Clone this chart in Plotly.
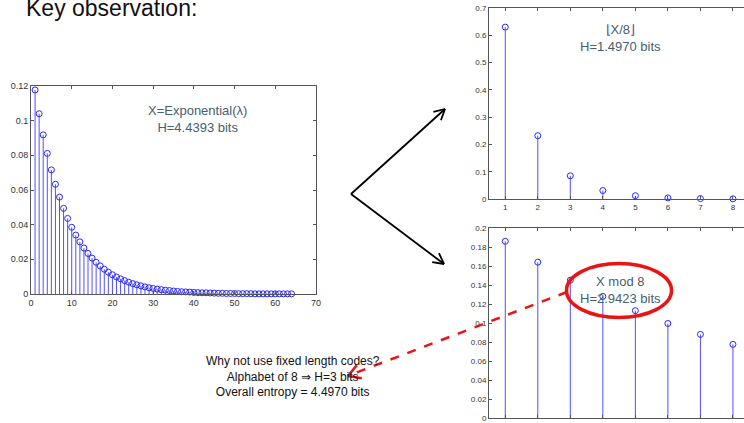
import math
import plotly.graph_objects as go

W, H = 744, 423

# ---------------- data ----------------
exp_x = list(range(1, 65))
exp_p = [0.1177, 0.1040, 0.0918, 0.0811, 0.0716, 0.0633, 0.0559, 0.0494, 0.0436, 0.0385,
         0.0340, 0.0301, 0.0265, 0.0234, 0.0207, 0.0183, 0.0162, 0.0143, 0.0126, 0.0111,
         0.0098, 0.0087, 0.0077, 0.0068, 0.0060, 0.0053, 0.0047, 0.0041, 0.0036, 0.0032,
         0.0028, 0.0025, 0.0022, 0.0020, 0.0017, 0.0015, 0.0013, 0.0012, 0.0011, 0.0009,
         0.0008, 0.0007, 0.0007, 0.0006, 0.0005, 0.0004, 0.0004, 0.0003, 0.0003, 0.0003,
         0.0002, 0.0002, 0.0002, 0.0002, 0.0001, 0.0001, 0.0001, 0.0001, 0.0001, 0.0001,
         0.0001, 0.0001, 0.0001, 0.0001]

div_x = [1, 2, 3, 4, 5, 6, 7, 8]
div_p = [0.630, 0.232, 0.085, 0.031, 0.012, 0.004, 0.0015, 0.0006]

mod_x = [1, 2, 3, 4, 5, 6, 7, 8]
mod_p = [0.186, 0.164, 0.145, 0.128, 0.113, 0.0995, 0.088, 0.0775]

exp_ticks = [0, 10, 20, 30, 40, 50, 60, 70]
exp_yticks = [0, 0.02, 0.04, 0.06, 0.08, 0.1, 0.12]
div_yticks = [0, 0.1, 0.2, 0.3, 0.4, 0.5, 0.6, 0.7]
mod_yticks = [0, 0.02, 0.04, 0.06, 0.08, 0.1, 0.12, 0.14, 0.16, 0.18, 0.2]

title_text = "Key observation:"
exp_label = "X=Exponential(λ)<br>H=4.4393 bits"
div_label = "⌊X/8⌋<br>H=1.4970 bits"
mod_label = "X mod 8<br>H=2.9423 bits"
note_text = "Why not use fixed length codes?<br>Alphabet of 8 ⇒ H=3 bits<br>Overall entropy = 4.4970 bits"

# ---------------- helpers ----------------
def px(x, y):
    return x / W, 1 - y / H

def stems(xs, ys):
    sx, sy = [], []
    for a, b in zip(xs, ys):
        sx += [a, a, None]
        sy += [0, b, None]
    return sx, sy

STEM = "rgb(80,80,255)"
MARK = "rgb(40,40,255)"
TXT = "#46606e"
FONT = "Arial, Liberation Sans, sans-serif"

fig = go.Figure()

for (xs, ys, xa, ya) in [(exp_x, exp_p, "x", "y"), (div_x, div_p, "x2", "y2"), (mod_x, mod_p, "x3", "y3")]:
    sx, sy = stems(xs, ys)
    fig.add_trace(go.Scatter(x=sx, y=sy, mode="lines", line=dict(color=STEM, width=1),
                             xaxis=xa, yaxis=ya, hoverinfo="skip", showlegend=False))
    fig.add_trace(go.Scatter(x=xs, y=ys, mode="markers",
                             marker=dict(symbol="circle-open", size=6, color=MARK, line=dict(width=1, color=MARK)),
                             xaxis=xa, yaxis=ya, showlegend=False, cliponaxis=False))

axis_common = dict(showline=True, mirror="ticks", linecolor="#555", linewidth=1, ticks="inside",
                   ticklen=3, tickcolor="#555", showgrid=False, zeroline=False, automargin=False,
                   tickfont=dict(family=FONT, size=9, color="#333"))
small = {**axis_common, "tickfont": dict(family=FONT, size=8, color="#333")}
small_y = {**small, "mirror": False}

def dom_x(a, b):
    return [a / W, b / W]

def dom_y(top, bottom):
    return [1 - bottom / H, 1 - top / H]

fig.update_layout(
    width=W, height=H, autosize=False,
    margin=dict(l=0, r=0, t=0, b=0, pad=0, autoexpand=False),
    paper_bgcolor="white", plot_bgcolor="white",
    font=dict(family=FONT),
    title=dict(text=title_text, xref="container", yref="container",
               x=26 / W, xanchor="left", y=1 - 8 / H, yanchor="middle",
               pad=dict(l=0, r=0, t=0, b=0),
               font=dict(family=FONT, size=23, color="#111")),
    xaxis=dict(domain=dom_x(31, 316), range=[0, 70], tickvals=exp_ticks, anchor="y", **axis_common),
    yaxis=dict(domain=dom_y(86, 294), range=[0, 0.12], tickvals=exp_yticks, anchor="x", **axis_common),
    xaxis2=dict(domain=dom_x(489, 744), range=[0.5, 8.34], tickvals=div_x, anchor="y2", **small),
    yaxis2=dict(domain=dom_y(8, 199), range=[0, 0.7], tickvals=div_yticks, anchor="x2", **small_y),
    xaxis3=dict(domain=dom_x(489, 744), range=[0.5, 8.34], tickvals=mod_x, anchor="y3", **small),
    yaxis3=dict(domain=dom_y(228, 418), range=[0, 0.2], tickvals=mod_yticks, anchor="x3", **small_y),
)

anns = []
def add_text(text, x, y, size, color, xanchor="center", yanchor="middle"):
    X, Y = px(x, y)
    anns.append(dict(text=text, x=X, y=Y, xref="paper", yref="paper", showarrow=False,
                     xanchor=xanchor, yanchor=yanchor, align="center",
                     font=dict(family=FONT, size=size, color=color)))

add_text(exp_label, 197, 119, 13, TXT)
add_text(div_label, 620, 38, 13, TXT)
add_text(mod_label, 620, 290, 13, TXT)
add_text(note_text, 293, 376, 12, "#111")
fig.update_layout(annotations=anns)

shapes = []
def line(x0, y0, x1, y1, color, width, dash="solid"):
    a, b = px(x0, y0)
    c, d = px(x1, y1)
    shapes.append(dict(type="line", xref="paper", yref="paper", x0=a, y0=b, x1=c, y1=d,
                       line=dict(color=color, width=width, dash=dash)))

def head(tx, ty, fx, fy, color, width, length, ang=28):
    dx, dy = fx - tx, fy - ty
    n = math.hypot(dx, dy)
    ux, uy = dx / n, dy / n
    for s in (1, -1):
        t = math.radians(ang * s)
        wx = ux * math.cos(t) - uy * math.sin(t)
        wy = ux * math.sin(t) + uy * math.cos(t)
        line(tx, ty, tx + wx * length, ty + wy * length, color, width)

# black arrows
line(351, 194, 445, 109, "black", 1.8)
head(445, 109, 351, 194, "black", 1.8, 12)
line(351, 194, 444, 264, "black", 1.8)
head(444, 264, 351, 194, "black", 1.8, 12)

# red ellipse
a, b = px(566.5, 317.5)
c, d = px(671.5, 263.5)
shapes.append(dict(type="circle", xref="paper", yref="paper", x0=a, y0=b, x1=c, y1=d,
                   line=dict(color="rgb(235,20,20)", width=3.5)))

# red dashed arrow
line(567, 292, 350, 375, "rgb(235,20,20)", 2.5, dash="dash")
head(348, 376, 567, 292, "rgb(235,20,20)", 2.5, 14, ang=30)

fig.update_layout(shapes=shapes)

fig.write_html("out.html", config={"displayModeBar": False},
               post_script="document.body.style.margin='0';document.body.style.overflow='hidden';")
